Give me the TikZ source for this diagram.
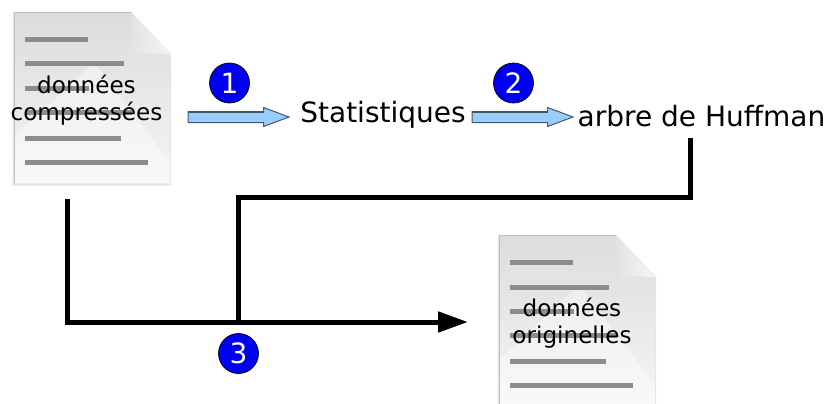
\documentclass[tikz,border=0pt]{standalone}
\usepackage{fontspec}
\setmainfont{DejaVu Sans}
\usetikzlibrary{arrows.meta}
\definecolor{arrowfill}{HTML}{99CCFF}
\definecolor{arrowedge}{HTML}{44586A}
\definecolor{docline}{HTML}{8C8C8C}
\definecolor{numblue}{HTML}{0000F0}
\tikzset{
  blockarrow/.style={draw=arrowedge,line width=1pt,fill=arrowfill,line join=miter},
  numcircle/.style={circle,draw=black,line width=0.7pt,fill=numblue,text=white,inner sep=0pt,
    minimum size=40pt,font=\fontsize{28}{28}\selectfont},
  biglabel/.style={inner sep=0pt,text=black,font=\fontsize{28}{30}\selectfont},
  doclabel/.style={inner sep=0pt,align=center,text=black,font=\fontsize{23.1}{27}\selectfont},
  heavyline/.style={line width=5pt,draw=black,line cap=butt,line join=miter},
  textline/.style={line width=5pt,draw=docline}
}
\newcommand{\docicon}[2]{%
  \begin{scope}[shift={(#1,#2)}]
    \fill[black,opacity=0.10] (-1.5,0) -- (117,0) -- (157,42) -- (157,173.5) -- (-1.5,173.5) -- cycle;
    \shade[top color=gray!27,bottom color=gray!8] (0,0) -- (117,0) -- (156,42) -- (156,171) -- (0,171) -- cycle;
    \fill[white,opacity=0.40] (0,171) -- (0,125) -- (80,50) -- (156,150) -- (156,171) -- cycle;
    \shade[left color=gray!22,right color=gray!8] (117,0) -- (156,42) -- (119,41) -- cycle;
    \draw[gray!50,line width=0.8pt] (0,171) -- (0,0) -- (117,0);
    \draw[textline] (11,27.5) -- (74,27.5);
    \draw[textline] (11,52) -- (110,52);
    \draw[textline] (11,76) -- (75,76);
    \draw[textline] (11,100) -- (118,100);
    \draw[textline] (11,126) -- (107,126);
    \draw[textline] (11,150) -- (134,150);
  \end{scope}%
}
\newcommand{\blockarrowat}[1]{%
  \draw[blockarrow] ([shift={(-50,-5.5)}]#1) -- ++(75.5,0) -- ++(0,-4) -- ([shift={(51,0)}]#1)
    -- ([shift={(25.5,9.5)}]#1) -- ++(0,-4) -- ([shift={(-50,5.5)}]#1) -- cycle;%
  \draw[arrowedge,line width=1.6pt] ([shift={(-50,-5)}]#1) -- ++(75.5,0);%
}
\begin{document}
\begin{tikzpicture}[x=1pt,y=-1pt]
\useasboundingbox (0,0) rectangle (827,404);
\docicon{14}{12}
\begin{scope}
  \clip (0,0) rectangle (827,404);
  \docicon{499}{235}
\end{scope}
\node[doclabel] (doca) at (86.5,100) {données\\compressées};
\node[doclabel] (docb) at (572,323) {données\\originelles};
\node[biglabel] (stats) at (383,115) {Statistiques};
\node[biglabel] (huff) at (701.5,116) {arbre de Huffman};
\coordinate (arrowa) at (238,117);
\coordinate (arrowb) at (522,117);
\blockarrowat{arrowa}
\blockarrowat{arrowb}
\node[numcircle] (na) at (229.5,83) {1};
\node[numcircle] (nb) at (513.5,83) {2};
\node[numcircle] (nc) at (238.5,353.5) {3};
\coordinate (startdown) at (67,199);
\coordinate (corner) at (67,322);
\coordinate (junction) at (238,322);
\coordinate (target) at (468,322);
\coordinate (up) at (238,197);
\coordinate (right) at (690,197);
\coordinate (huffout) at (690,138);
\draw[heavyline,-{Triangle[length=30pt,width=20pt]}] (startdown) -- (corner) -- (target);
\draw[heavyline] (junction) -- (up) -- (right) -- (huffout);
\end{tikzpicture}
\end{document}
